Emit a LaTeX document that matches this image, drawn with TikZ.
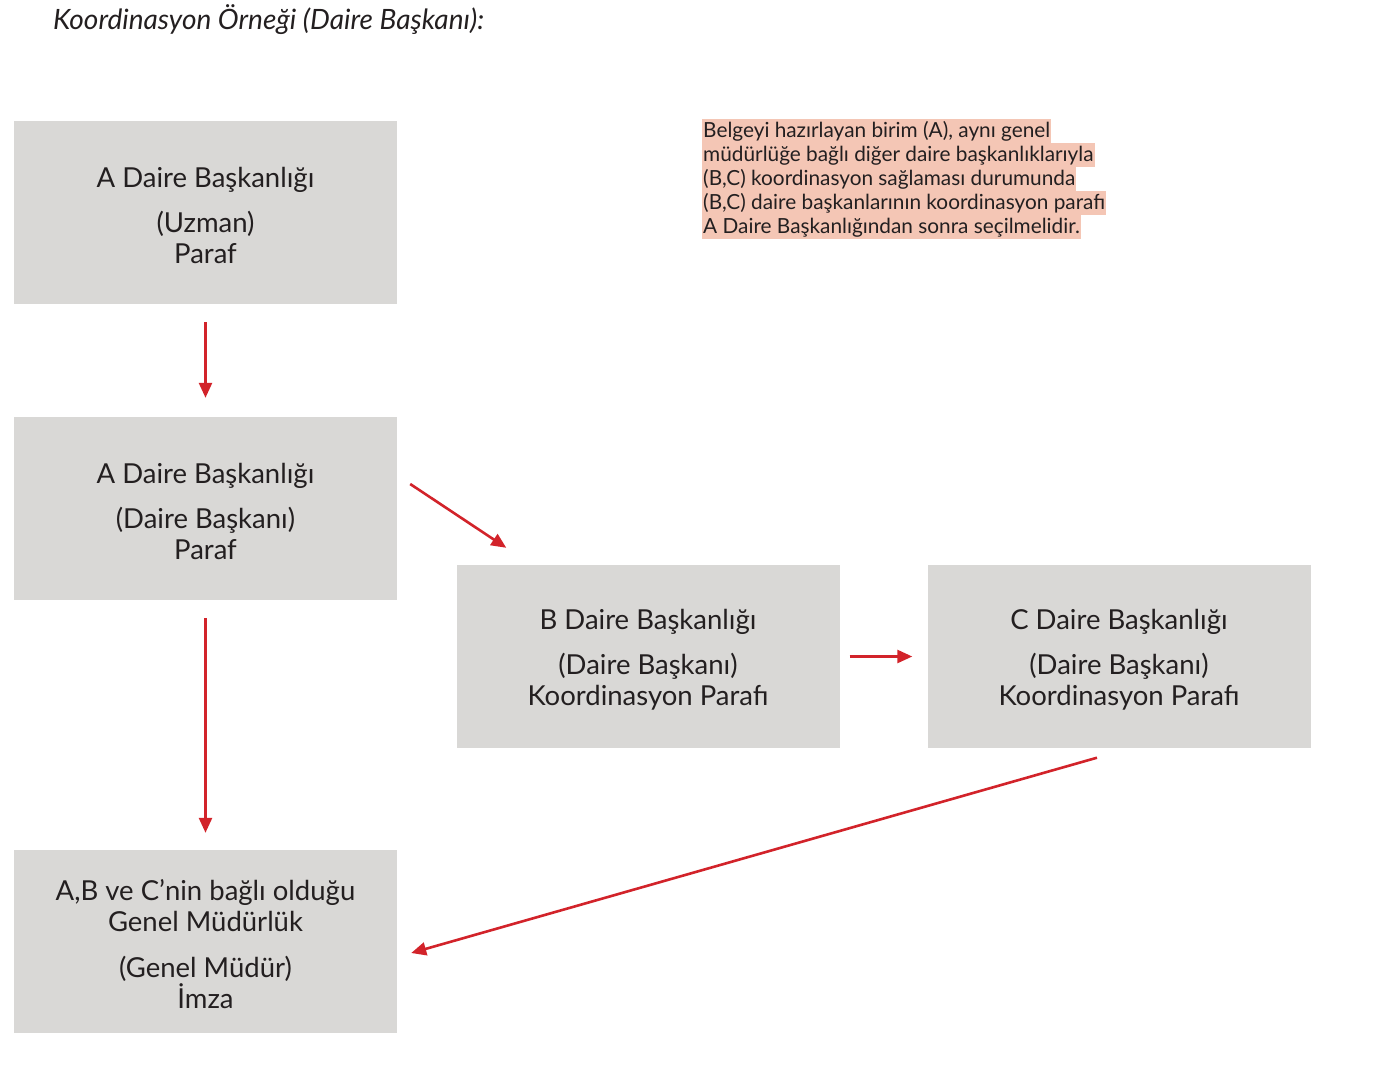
\documentclass[tikz,border=0pt]{standalone}
\usepackage{fontspec}
\setmainfont{Lato}
\usetikzlibrary{arrows.meta,calc}
\definecolor{boxgray}{HTML}{D9D8D6}
\definecolor{arrred}{HTML}{D2232A}
\definecolor{hlcol}{HTML}{F4C6B5}
\definecolor{txt}{HTML}{231F20}
\begin{document}
\begin{tikzpicture}[x=1pt,y=-1pt,
  box/.style={fill=boxgray,draw=none,minimum width=383pt,minimum height=183pt,
    align=center,inner sep=0pt,text=txt,font=\fontsize{27.5}{31}\selectfont},
  hl/.style={fill=hlcol,anchor=base west,inner xsep=1pt,inner ysep=0pt,
    text height=18.5pt,text depth=5.5pt,text=txt,font=\fontsize{20.8}{24}\selectfont},
  conn/.style={draw=arrred,line width=2.6pt,-{Triangle[length=15pt,width=13pt]}}]
\useasboundingbox (0,0) rectangle (1379,1082);

\node[anchor=base west,inner sep=0pt,text=txt,font=\fontsize{28}{30}\selectfont\itshape] (title) at (53,29) {Koordinasyon Örneği (Daire Başkanı):};

\node[box] (a1) at (205.5,212.5) {\rule{0pt}{26pt}A Daire Başkanlığı\\[14pt](Uzman)\\Paraf};
\node[box] (a2) at (205.5,508.5) {\rule{0pt}{26pt}A Daire Başkanlığı\\[14pt](Daire Başkanı)\\Paraf};
\node[box] (b) at (648,656.5) {\rule{0pt}{26pt}B Daire Başkanlığı\\[14pt](Daire Başkanı)\\Koordinasyon Parafı};
\node[box] (c) at (1119,656.5) {\rule{0pt}{26pt}C Daire Başkanlığı\\[14pt](Daire Başkanı)\\Koordinasyon Parafı};
\node[box] (g) at (205.5,941.5) {\rule{0pt}{26pt}A,B ve C’nin bağlı olduğu\\Genel Müdürlük\\[15pt](Genel Müdür)\\İmza};

\node[hl] (n1) at (702,137) {Belgeyi hazırlayan birim (A), aynı genel\ };
\node[hl] (n2) at (702,161) {müdürlüğe bağlı diğer daire başkanlıklarıyla\ };
\node[hl] (n3) at (702,185) {(B,C) koordinasyon sağlaması durumunda\ };
\node[hl] (n4) at (702,209) {(B,C) daire başkanlarının koordinasyon parafı\ };
\node[hl] (n5) at (702,233) {A Daire Başkanlığından sonra seçilmelidir.};

\coordinate (s2) at ($(a2.east)+(13,-24.5)$);
\coordinate (e2) at ($(b.north west)+(50,-17)$);
\coordinate (s5) at ($(c.south)+(-22,9.5)$);
\coordinate (e5) at ($(g.east)+(14,11.5)$);

\draw[conn,shorten <=18pt,shorten >=19pt] (a1.south) -- (a2.north);
\draw[conn] (s2) -- (e2);
\draw[conn,shorten <=18pt,shorten >=17pt] (a2.south) -- (g.north);
\draw[conn,shorten <=10pt,shorten >=15pt] (b.east) -- (c.west);
\draw[conn] (s5) -- (e5);
\end{tikzpicture}
\end{document}
